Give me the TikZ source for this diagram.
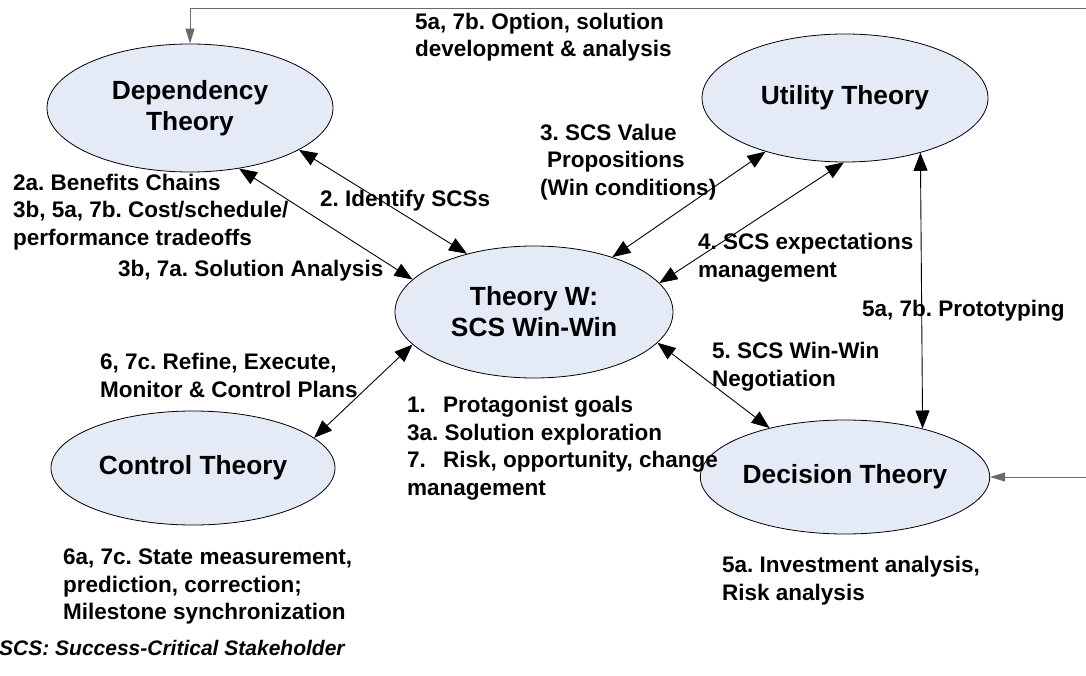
\documentclass[tikz,border=0pt]{standalone}
\usepackage{fontspec}
\setmainfont{Liberation Sans}
\usetikzlibrary{shapes.geometric,arrows.meta}
\definecolor{ellfill}{HTML}{E4EAF6}
\definecolor{feedgray}{HTML}{6A6A6A}
\newcommand{\lblfont}{\fontsize{22.5}{27.5}\selectfont\bfseries}
\newcommand{\ttlfont}{\fontsize{26.3}{31}\selectfont\bfseries}
\newcommand{\notefont}{\fontsize{21}{25}\selectfont\bfseries\itshape}
\newcommand{\itemlbl}[1]{\makebox[36pt][l]{#1}}
\frenchspacing

\begin{document}
\begin{tikzpicture}[x=1pt,y=-1pt,
  theory/.style={ellipse, draw=black, line width=0.8pt, fill=ellfill,
    inner sep=0pt, align=center, font=\ttlfont},
  % labels are placed by the baseline of their last line
  lbl/.style={inner sep=0pt, anchor=base west, align=left, font=\lblfont},
  link/.style={line width=0.9pt, draw=black,
    {Triangle[length=18pt,width=14pt]}-{Triangle[length=18pt,width=14pt]}},
  feed/.style={line width=0.9pt, draw=feedgray,
    -{Triangle[length=15pt,width=9pt]}}]

\useasboundingbox (0,0) rectangle (1086,676);

% the five theories
\node[theory, minimum width=286pt, minimum height=128pt] (dep)  at (190,108) {Dependency\\Theory};
\node[theory, minimum width=286pt, minimum height=128pt] (util) at (845,98)  {Utility Theory};
\node[theory, minimum width=278pt, minimum height=132pt] (tw)   at (534,312) {Theory W:\\SCS Win-Win};
\node[theory, minimum width=284pt, minimum height=114pt] (ctrl) at (193,468) {Control Theory};
\node[theory, minimum width=284pt, minimum height=114pt] (dec)  at (845,477) {Decision Theory};

% feedback lines entering from the right margin
\coordinate (fbtop)   at (1086,8);
\coordinate (fbright) at (1086,477);
\draw[feed] (fbtop) -- (dep.north |- fbtop) -- (dep.north);
\draw[feed] (fbright) -- (dec.east);

% two-way links
\draw[link] (dep.-21.9)  -- (tw.139.2);
\draw[link] (dep.-51.1)  -- (tw.165.3);
\draw[link] (util.-146)  -- (tw.35.9);
\draw[link] (util.-91.8) -- (tw.13.2);
\draw[link] (tw.195.5)   -- (ctrl.14.7);
\draw[link] (tw.-14.9)   -- (dec.147.9);
\draw[link] (util.-36)   -- (dec.32.8);

% link and activity labels
\node[lbl] (optlbl) at (415,57) {5a, 7b. Option, solution\\development \& analysis};
\node[lbl] (benlbl) at (13,245.5) {2a. Benefits Chains\\3b, 5a, 7b. Cost/schedule/\\performance tradeoffs};
\node[lbl] (idlbl)  at (320,206.5) {2. Identify SCSs};
\node[lbl] (sollbl) at (118,276.5) {3b, 7a. Solution Analysis};
\node[lbl] (vallbl) at (540,195.5) {3. SCS Value\\\hspace*{7pt}Propositions\\(Win conditions)};
\node[lbl] (explbl) at (698,277) {4. SCS expectations\\management};
\node[lbl] (prolbl) at (862,316.5) {5a, 7b. Prototyping};
\node[lbl] (neglbl) at (712,386) {5. SCS Win-Win\\Negotiation};
\node[lbl] (reflbl) at (100,397) {6, 7c. Refine, Execute,\\Monitor \& Control Plans};
\node[lbl] (goallbl) at (407,495) {\itemlbl{1.}Protagonist goals\\3a. Solution exploration\\\itemlbl{7.}Risk, opportunity, change\\management};
\node[lbl] (statelbl) at (63,619.5) {6a, 7c. State measurement,\\prediction, correction;\\Milestone synchronization};
\node[lbl] (invlbl) at (722,600) {5a. Investment analysis,\\Risk analysis};
\node[lbl, font=\notefont] (note) at (-1,655.5) {SCS: Success-Critical Stakeholder};

\end{tikzpicture}
\end{document}
